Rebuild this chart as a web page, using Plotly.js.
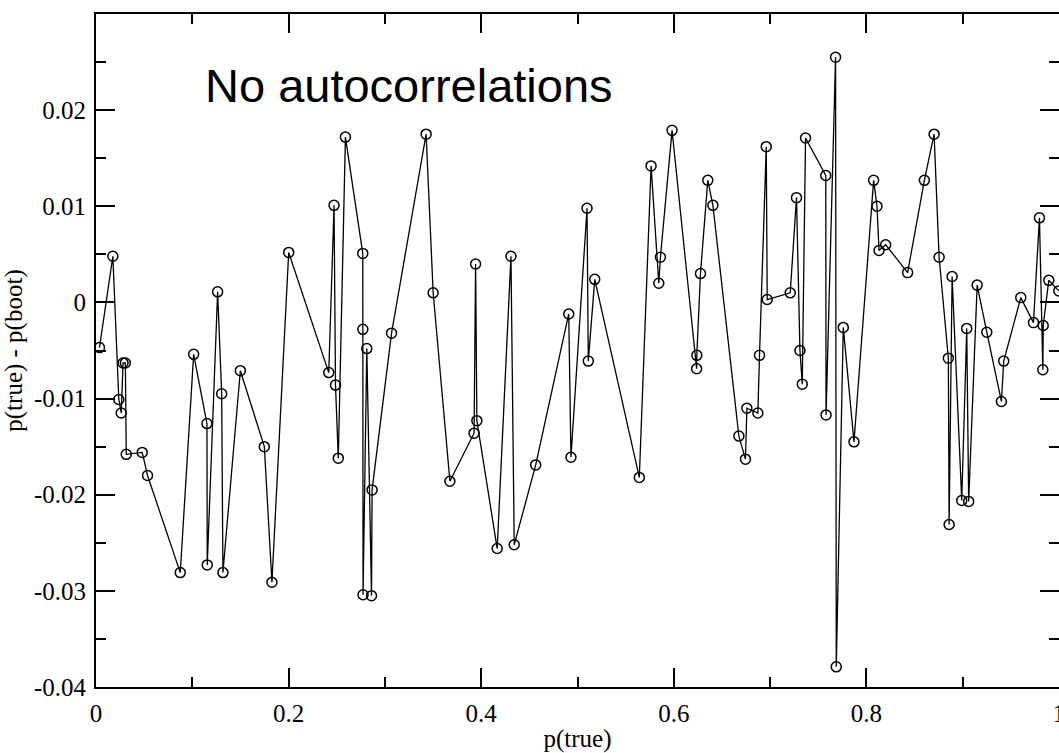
<!DOCTYPE html>
<html>
<head>
<meta charset="utf-8">
<script src="https://cdn.plot.ly/plotly-3.0.1.min.js"></script>
<style>html,body{margin:0;padding:0;background:#fff;}#chart{width:1059px;height:753px;}</style>
</head>
<body>
<div id="chart"></div>
<script>
const pTrue = [0.0036,0.0175,0.0237,0.0262,0.0281,0.0305,0.0314,0.048,0.0535,0.0875,
0.1014,0.1152,0.1155,0.1263,0.1305,0.1318,0.1499,0.1748,0.1827,0.2001,
0.2417,0.2472,0.2487,0.2516,0.2590,0.2770,0.2771,0.2773,0.2812,0.2861,
0.2867,0.3069,0.3428,0.3501,0.3675,0.3926,0.3942,0.3955,0.4166,0.4309,
0.4343,0.4566,0.4909,0.4932,0.5099,0.5112,0.5179,0.5642,0.5764,0.5844,
0.5861,0.5982,0.6237,0.6239,0.6277,0.6353,0.6406,0.6676,0.6744,0.6759,
0.6873,0.6890,0.6960,0.6970,0.7209,0.7274,0.7310,0.7334,0.7368,0.7578,
0.7581,0.7680,0.7687,0.7760,0.7871,0.8075,0.8110,0.8131,0.8200,0.8428,
0.8602,0.8703,0.8755,0.8851,0.8859,0.8890,0.8990,0.9042,0.9062,0.9150,
0.9250,0.9402,0.9426,0.9603,0.9735,0.9797,0.9832,0.9836,0.9894,0.9998];
const pDiff = [-0.0047,0.0048,-0.0101,-0.0115,-0.0063,-0.0063,-0.0158,-0.0156,-0.0180,-0.0281,
-0.0054,-0.0126,-0.0273,0.0011,-0.0095,-0.0281,-0.0071,-0.0150,-0.0291,0.0052,
-0.0073,0.0101,-0.0086,-0.0162,0.0172,0.0051,-0.0028,-0.0304,-0.0048,-0.0305,
-0.0195,-0.0032,0.0175,0.0010,-0.0186,-0.0136,0.0040,-0.0123,-0.0256,0.0048,
-0.0252,-0.0169,-0.0012,-0.0161,0.0098,-0.0061,0.0024,-0.0182,0.0142,0.0020,
0.0047,0.0179,-0.0069,-0.0055,0.0030,0.0127,0.0101,-0.0139,-0.0163,-0.0110,
-0.0115,-0.0055,0.0162,0.0003,0.0010,0.0109,-0.0050,-0.0085,0.0171,0.0132,
-0.0117,0.0255,-0.0379,-0.0026,-0.0145,0.0127,0.0100,0.0054,0.0060,0.0031,
0.0127,0.0175,0.0047,-0.0058,-0.0231,0.0027,-0.0206,-0.0027,-0.0207,0.0018,
-0.0031,-0.0103,-0.0061,0.0005,-0.0021,0.0088,-0.0070,-0.0024,0.0023,0.0012];

const xTickVals = [0,0.2,0.4,0.6,0.8,1];
const xTickText = ["0","0.2","0.4","0.6","0.8","1"];
const yTickVals = [-0.04,-0.03,-0.02,-0.01,0,0.01,0.02];
const yTickText = ["-0.04","-0.03","-0.02","-0.01","0","0.01","0.02"];
const titleText = "No autocorrelations";

const serif = "Liberation Serif, Times New Roman, serif";

const trace = {
  x: pTrue, y: pDiff, type: 'scatter', mode: 'lines+markers',
  line: {color: '#000', width: 1.3},
  marker: {symbol: 'circle-open', size: 10, color: '#000', line: {width: 1.5, color: '#000'}},
  hoverinfo: 'x+y'
};

const axisCommon = {
  showline: true, linecolor: '#000', linewidth: 2, mirror: 'ticks',
  ticks: 'inside', ticklen: 19, tickwidth: 2, tickcolor: '#000',
  showgrid: false, zeroline: false, ticklabeloverflow: 'allow',
  tickfont: {family: serif, size: 25, color: '#000'}
};

const layout = {
  width: 1059, height: 753,
  margin: {l: 96, r: 0, t: 14, b: 66},
  paper_bgcolor: '#fff', plot_bgcolor: '#fff',
  showlegend: false,
  xaxis: Object.assign({}, axisCommon, {
    range: [0, 1], tickmode: 'array', tickvals: xTickVals, ticktext: xTickText,
    minor: {dtick: 0.1, tick0: 0, ticks: 'inside', ticklen: 10, tickwidth: 2, tickcolor: '#000', showgrid: false},
    ticklabelstandoff: 3,
    title: {text: 'p(true)', font: {family: serif, size: 25, color: '#000'}, standoff: 5}
  }),
  yaxis: Object.assign({}, axisCommon, {
    range: [-0.04, 0.03], tickmode: 'array', tickvals: yTickVals, ticktext: yTickText,
    minor: {dtick: 0.005, tick0: 0, ticks: 'inside', ticklen: 10, tickwidth: 2, tickcolor: '#000', showgrid: false},
    ticklabelstandoff: 3,
    title: {text: 'p(true) - p(boot)', font: {family: serif, size: 25, color: '#000'}, standoff: 10}
  }),
  annotations: [{
    text: titleText, xref: 'paper', yref: 'paper', x: 0.111, y: 0.894,
    xanchor: 'left', yanchor: 'middle', showarrow: false,
    font: {family: 'Liberation Sans, Arial, sans-serif', size: 47, color: '#000'}
  }]
};

Plotly.newPlot('chart', [trace], layout, {displayModeBar: false, staticPlot: true});
</script>
</body>
</html>
